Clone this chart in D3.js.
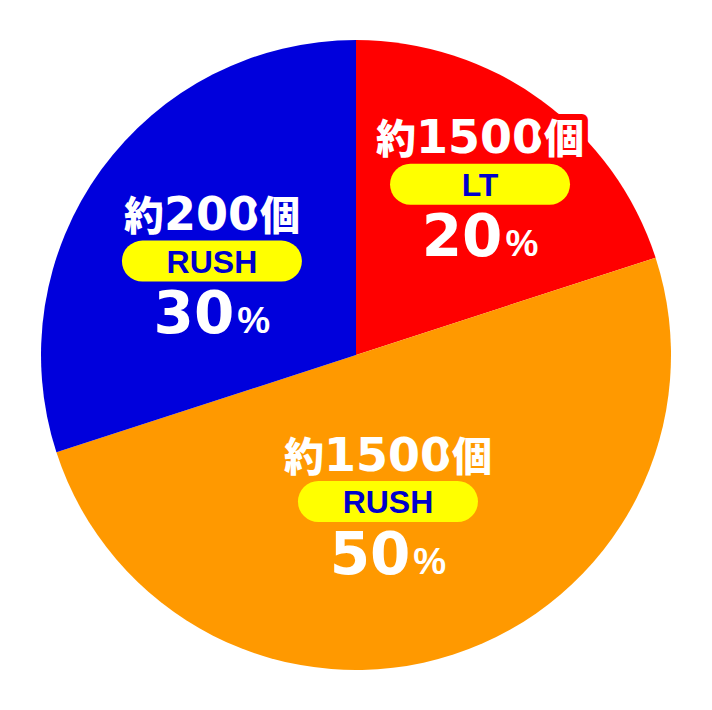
<!DOCTYPE html>
<html>
<head>
<meta charset="utf-8">
<script src="https://d3js.org/d3.v7.min.js"></script>
<style>
  body { margin: 0; background: #fff; }
  text { font-family: "Liberation Sans", "Noto Sans CJK JP", sans-serif; font-weight: bold; }
  .num { font-family: "DejaVu Sans", sans-serif; }
  .cjk { font-family: "Noto Sans CJK JP", sans-serif; font-weight: 900; }
</style>
</head>
<body>
<div id="container"></div>
<script>
let w = 712;
let h = 710;

// chart data
let categories = ['LT', 'RUSH', 'RUSH'];
let counts = ['約1500個', '約1500個', '約200個'];
let percents = [20, 50, 30];
let sliceColors = ['#ff0000', '#ff9900', '#0000dc'];

let cx = 356, cy = 355, radius = 315;
let pillColor = '#ffff00';
let pillText = '#0000cc';

// label placement: distance from center and angle nudge (degrees)
let labelDist = [211, 150, 172];
let labelNudge = [0, 5.7, -2.9];

let svg = d3.select('#container')
  .append('svg')
    .attr('width', w)
    .attr('height', h)
  ;

let g = svg.append('g')
  .attr('transform', 'translate(' + cx + ',' + cy + ')');

let pie = d3.pie().sort(null).value(d => d);
let arcs = pie(percents);
let arc = d3.arc().innerRadius(0).outerRadius(radius);

g.selectAll('.slice').data(arcs)
  .enter()
  .append('path')
    .attr('class', 'slice')
    .attr('d', arc)
    .attr('fill', (d, i) => sliceColors[i])
  ;

//labels
let labels = g.selectAll('.label').data(arcs)
  .enter()
  .append('g')
    .attr('class', 'label')
    .attr('transform', function(d, i) {
      let a = (d.startAngle + d.endAngle) / 2 + labelNudge[i] * Math.PI / 180;
      let x = Math.sin(a) * labelDist[i];
      let y = -Math.cos(a) * labelDist[i];
      return 'translate(' + x + ',' + y + ')';
    })
  ;

let countText = labels.append('text')
  .attr('text-anchor', 'middle')
  .attr('y', -31)
  .attr('fill', '#fff')
  .attr('stroke', (d, i) => sliceColors[i])
  .attr('stroke-width', 12)
  .attr('stroke-linejoin', 'round')
  .attr('paint-order', 'stroke');

countText.each(function(d, i) {
  let parts = counts[i].match(/^(\D+)(\d+)(\D+)$/);
  let t = d3.select(this);
  t.append('tspan').attr('class', 'cjk').attr('font-size', 40).text(parts[1]);
  t.append('tspan').attr('class', 'num').attr('font-size', 46).text(parts[2]);
  t.append('tspan').attr('class', 'cjk').attr('font-size', 40).text(parts[3]);
});

labels.append('rect')
  .attr('x', -90)
  .attr('y', -20.5)
  .attr('width', 180)
  .attr('height', 41)
  .attr('rx', 20.5)
  .attr('fill', pillColor);

labels.append('text')
  .attr('text-anchor', 'middle')
  .attr('y', 11.5)
  .attr('font-size', 32)
  .attr('fill', pillText)
  .text((d, i) => categories[i]);

let pct = labels.append('text')
  .attr('text-anchor', 'middle')
  .attr('y', 72)
  .attr('fill', '#fff');

pct.append('tspan')
  .attr('class', 'num')
  .attr('font-size', 58)
  .text(d => d.data);

pct.append('tspan')
  .attr('font-size', 37)
  .attr('dx', 3)
  .text('%');
</script>
</body>
</html>
